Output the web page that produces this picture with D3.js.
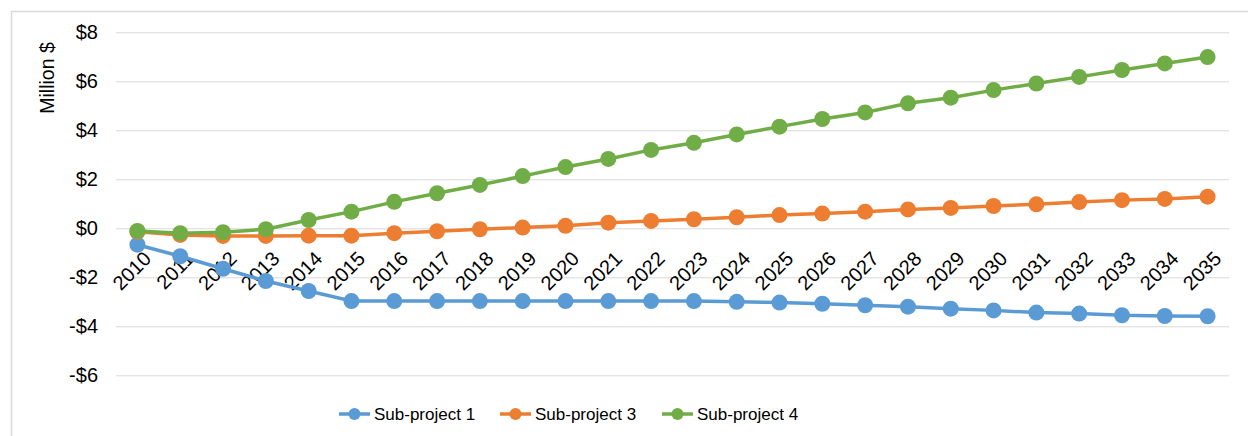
<!DOCTYPE html>
<meta charset="utf-8">
<head>
  <title>sub-project cash flow</title>
</head>
<style>
body { margin: 0; background: #fff; }
svg { font-family: "Liberation Sans", Arial, sans-serif; }
.grid line { stroke: #d9d9d9; stroke-width: 1; }
.grid path { display: none; }
</style>
<body>
<svg id="chart" width="1248" height="436"></svg>
<script src="https://cdnjs.cloudflare.com/ajax/libs/d3/7.8.5/d3.min.js"></script>
<script>
// data (million $)
var years = ["2010","2011","2012","2013","2014","2015","2016","2017","2018","2019","2020","2021","2022",
             "2023","2024","2025","2026","2027","2028","2029","2030","2031","2032","2033","2034","2035"];
var sub1 = [-0.67,-1.14,-1.65,-2.15,-2.56,-2.97,-2.97,-2.97,-2.97,-2.97,-2.97,-2.97,-2.97,
            -2.97,-3.0,-3.03,-3.08,-3.14,-3.2,-3.28,-3.35,-3.44,-3.48,-3.55,-3.58,-3.59];
var sub3 = [-0.14,-0.27,-0.31,-0.31,-0.3,-0.3,-0.2,-0.12,-0.04,0.03,0.1,0.23,0.3,
            0.37,0.45,0.54,0.6,0.68,0.77,0.83,0.91,0.98,1.07,1.15,1.2,1.29];
var sub4 = [-0.11,-0.2,-0.16,-0.04,0.34,0.68,1.08,1.43,1.77,2.13,2.5,2.83,3.2,
            3.49,3.83,4.15,4.46,4.73,5.1,5.33,5.64,5.91,6.18,6.46,6.73,6.99];
var yTicks = [-6,-4,-2,0,2,4,6,8];

var series = [
  {name: "Sub-project 1", values: sub1, color: "#5b9bd5"},
  {name: "Sub-project 3", values: sub3, color: "#ed7d31"},
  {name: "Sub-project 4", values: sub4, color: "#70ad47"}
];

var svg = d3.select("#chart");

// chart frame (only top and left edges are in view)
svg.append("rect")
  .attr("x", 11.5).attr("y", 11.5)
  .attr("width", 1300).attr("height", 500)
  .attr("fill", "none").attr("stroke", "#d9d9d9").attr("stroke-width", 1.5);

var x = d3.scaleBand().domain(years).range([116, 1229]);
var y = d3.scaleLinear().domain([-6, 8]).range([375.3, 32.3]);

// gridlines
svg.append("g").attr("class", "grid")
  .attr("transform", "translate(116,0)")
  .call(d3.axisLeft(y).tickValues(yTicks).tickSize(-(1229 - 116)).tickFormat(""));

// y tick labels
function money(v) { return (v < 0 ? "-$" : "$") + Math.abs(v); }
svg.append("g").selectAll("text")
  .data(yTicks).enter().append("text")
  .attr("x", 98).attr("y", function(d){ return y(d); })
  .attr("dy", "0.35em")
  .attr("text-anchor", "end")
  .attr("font-size", 20).attr("fill", "#000")
  .text(money);

// axis title
svg.append("text")
  .attr("transform", "translate(54,78) rotate(-90)")
  .attr("text-anchor", "middle")
  .attr("font-size", 19.5)
  .text("Million $");

// category labels on the zero line, slanted
svg.append("g").selectAll("text")
  .data(years).enter().append("text")
  .attr("transform", function(d){
    return "translate(" + (x(d) + x.bandwidth() / 2 + 15) + ",260) rotate(-45)";
  })
  .attr("text-anchor", "end")
  .attr("font-size", 20)
  .text(function(d){ return d; });

// lines and markers
var line = d3.line()
  .x(function(d, i){ return x(years[i]) + x.bandwidth() / 2; })
  .y(function(d){ return y(d); });

series.forEach(function(s){
  var g = svg.append("g");
  g.append("path")
    .attr("d", line(s.values))
    .attr("fill", "none")
    .attr("stroke", s.color)
    .attr("stroke-width", 3.5);
  g.selectAll("circle")
    .data(s.values).enter().append("circle")
    .attr("cx", function(d, i){ return x(years[i]) + x.bandwidth() / 2; })
    .attr("cy", function(d){ return y(d); })
    .attr("r", 8)
    .attr("fill", s.color);
});

// legend
var legendX = [339, 500, 662];
var leg = svg.append("g").selectAll("g")
  .data(series).enter().append("g")
  .attr("transform", function(d, i){ return "translate(" + legendX[i] + ",414)"; });
leg.append("line")
  .attr("x1", 0).attr("x2", 31)
  .attr("stroke", function(d){ return d.color; })
  .attr("stroke-width", 3.5);
leg.append("circle")
  .attr("cx", 15.5).attr("r", 6)
  .attr("fill", function(d){ return d.color; });
leg.append("text")
  .attr("x", 35).attr("dy", "0.35em")
  .attr("font-size", 17)
  .text(function(d){ return d.name; });
</script>
</body>
